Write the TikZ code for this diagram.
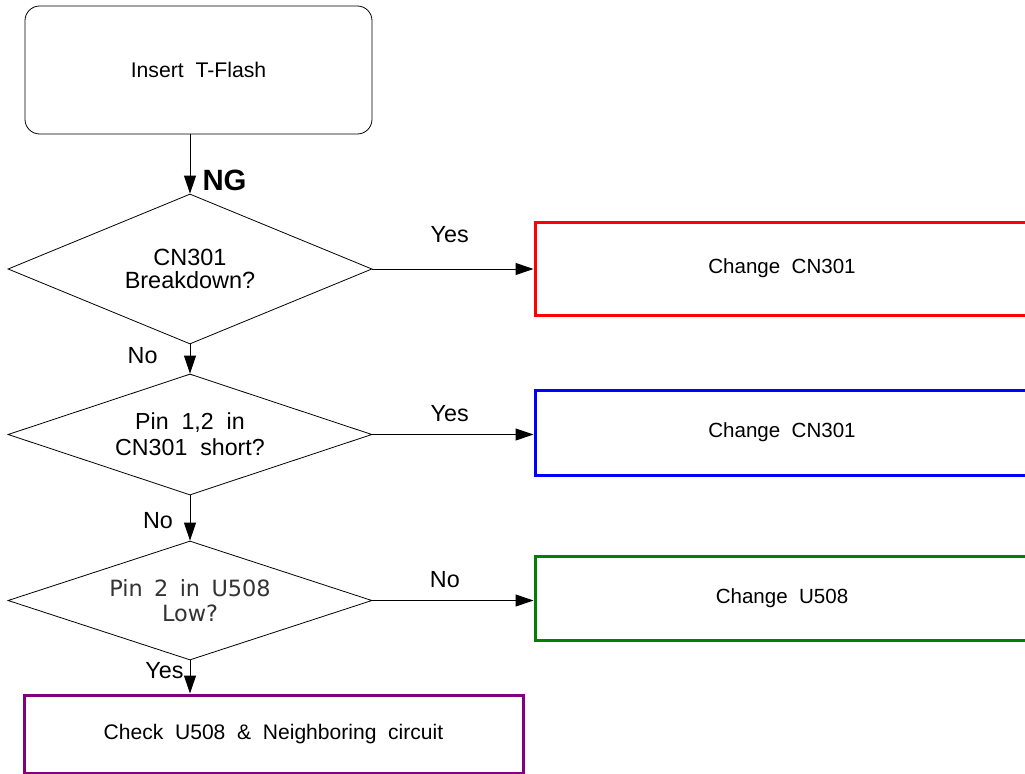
\documentclass[tikz,border=0pt]{standalone}
\usepackage{fontspec}
\setmainfont{Liberation Sans}[WordSpace=2]
\newfontfamily\lowfont{DejaVu Sans}[WordSpace=1.6]
\usetikzlibrary{arrows.meta,positioning,shapes.geometric}
\definecolor{fixred}{RGB}{255,0,0}
\definecolor{fixblue}{RGB}{0,0,255}
\definecolor{fixgreen}{RGB}{0,128,0}
\definecolor{fixpurple}{RGB}{128,0,128}

\begin{document}
\begin{tikzpicture}[
      x=0.75pt, y=-0.75pt,
      every node/.style={font=\fontsize{15.4}{18}\selectfont},
      startbox/.style={draw, rounded corners=11pt, line width=0.6pt, minimum width=260.25pt, minimum height=96pt, font=\fontsize{15.9}{18}\selectfont},
      query/.style={draw, diamond, aspect=2.6, line width=0.6pt, inner sep=0pt, align=center, minimum width=273pt, minimum height=#1},
      fixbox/.style={draw, line width=2.25pt, minimum width=370.5pt, minimum height=#1},
      lbl/.style={inner sep=1pt, font=\fontsize{17.5}{20}\selectfont},
      arrow/.style={-{Triangle[length=13.5pt, width=9pt]}, line width=0.75pt}
  ]
    \useasboundingbox (0,0) rectangle (1025,774);
    \node[startbox] (insert) at (198.5,70) {Insert T-Flash};
    \node[query=112.5pt, font=\fontsize{17.6}{17.5}\selectfont] (q1) at (190,269) {CN301\\Breakdown?};
    \node[query=90.75pt, font=\fontsize{17.4}{19.5}\selectfont] (q2) at (190,434.5) {Pin 1,2 in\\CN301 short?};
    \node[query=89.25pt, font=\lowfont\fontsize{16.8}{18.5}\selectfont, text=black!80] (q3) at (190,600.5) {Pin 2 in U508\\Low?};
    \node[fixbox=69.75pt, draw=fixred] (fix1) at (782,268.5) {Change CN301};
    \node[fixbox=63.75pt, draw=fixblue] (fix2) at (782,432.5) {Change CN301};
    \node[fixbox=63pt, draw=fixgreen] (fix3) at (782,598) {Change U508};
    \node[fixbox=58.5pt, draw=fixpurple, minimum width=374.25pt, font=\fontsize{15.8}{18}\selectfont] (check) at (273.5,734) {Check U508 \& Neighboring circuit};
    \draw[arrow] (insert.south -| q1.north) -- node[lbl, pos=0.78, right=8pt, font=\bfseries\fontsize{22}{26}\selectfont] {NG} (q1.north);
    \draw[arrow] (q1.east) -- node[lbl, pos=0.48, above=18.5pt] {Yes} (q1.east -| fix1.west);
    \draw[arrow] (q1.south) -- node[lbl, pos=0.4, left=23pt] {No} (q2.north);
    \draw[arrow] (q2.east) -- node[lbl, pos=0.48, above=8pt] {Yes} (q2.east -| fix2.west);
    \draw[arrow] (q2.south) -- node[lbl, pos=0.565, left=11.5pt] {No} (q3.north);
    \draw[arrow] (q3.east) -- node[lbl, pos=0.45, above=8.5pt] {No} (q3.east -| fix3.west);
    \draw[arrow] (q3.south) -- node[lbl, pos=0.31, left=3.5pt] {Yes} (q3.south |- check.north);
  \end{tikzpicture}
\end{document}
